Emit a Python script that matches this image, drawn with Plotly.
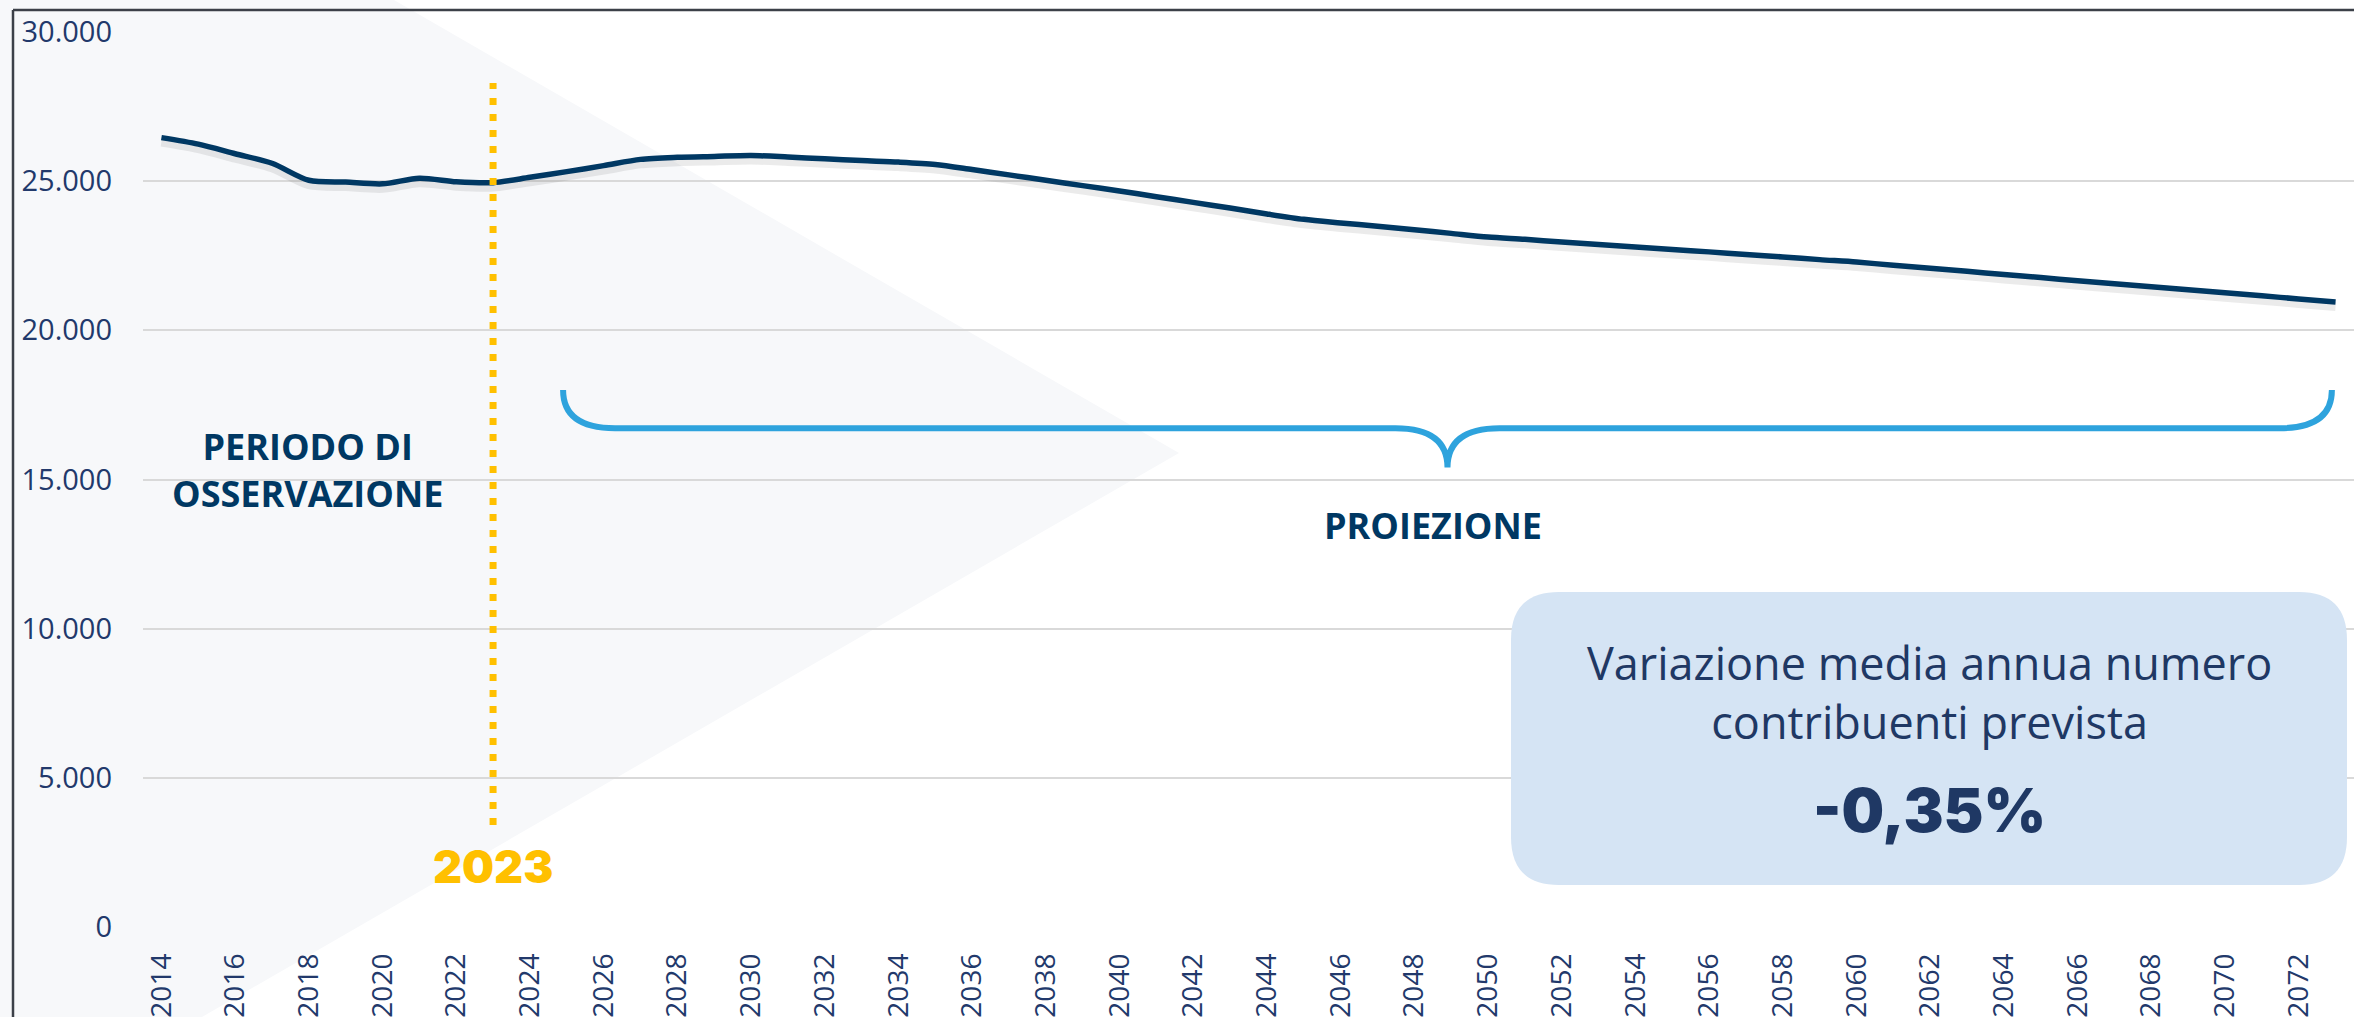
import plotly.graph_objects as go

# ---------------- data ----------------
years = list(range(2014, 2074))
contribuenti = [26460, 26240, 25920, 25600, 25030, 24970, 24910, 25100, 24980, 24950,
                25130, 25320, 25520, 25730, 25800, 25830, 25860, 25810, 25750, 25690,
                25640, 25560, 25390, 25210, 25030, 24850, 24670, 24480, 24290, 24100,
                23900, 23720, 23600, 23490, 23370, 23250, 23130, 23050, 22960, 22880,
                22790, 22710, 22630, 22540, 22460, 22370, 22290, 22180, 22080, 21980,
                21870, 21770, 21660, 21560, 21460, 21360, 21260, 21160, 21050, 20950]
x_tickvals = years[::2]
x_ticktext = [str(y) for y in x_tickvals]
y_tickvals = [0, 5000, 10000, 15000, 20000, 25000, 30000]
y_ticktext = ["0", "5.000", "10.000", "15.000", "20.000", "25.000", "30.000"]
anno_year = 2023
label_oss = "PERIODO DI<br>OSSERVAZIONE"
label_pro = "PROIEZIONE"
box_text = "Variazione media annua numero<br>contribuenti prevista"
box_value = "-0,35%"

# ---------------- geometry helpers ----------------
W, H = 2354, 1017
L, R, T, B = 143, 0, 32, 90
PW, PH = W - L - R, H - T - B


def px(x):
    return (x - L) / PW


def py(y):
    return (H - B - y) / PH


def ppath(cmds):
    out = []
    for c in cmds:
        if isinstance(c, str):
            out.append(c)
        else:
            out.append(f"{px(c[0]):.5f},{py(c[1]):.5f}")
    return " ".join(out)


NAVY = "#003863"
TICK = "#22396B"
YELLOW = "#FFC000"
BLUE = "#2EA3DD"

fig = go.Figure()

# soft shadow of the line
fig.add_trace(go.Scatter(
    x=years, y=[v - 150 for v in contribuenti], mode="lines",
    line=dict(color="rgba(60,60,60,0.10)", width=9, shape="spline", smoothing=0.8),
    hoverinfo="skip", showlegend=False))
fig.add_trace(go.Scatter(
    x=years, y=contribuenti, mode="lines",
    line=dict(color=NAVY, width=5.5, shape="spline", smoothing=0.8),
    showlegend=False))

shapes = []
# grey chevron (observation period)
shapes.append(dict(type="path", xref="paper", yref="paper", layer="below",
                   path=ppath(["M", (0, 0), "L", (394, 0), "L", (1179, 453), "L", (202, 1017),
                               "L", (0, 1017), "Z"]),
                   fillcolor="#F7F8FA", line=dict(width=0)))
# frame lines
shapes.append(dict(type="line", xref="paper", yref="paper", x0=px(13), x1=px(W + 5),
                   y0=py(10), y1=py(10), line=dict(color="#3C4048", width=2.5), layer="above"))
shapes.append(dict(type="line", xref="paper", yref="paper", x0=px(13), x1=px(13),
                   y0=py(10), y1=py(H + 5), line=dict(color="#3C4048", width=2.5), layer="above"))
# yellow dotted line at 2023
shapes.append(dict(type="line", xref="x", yref="paper", x0=anno_year, x1=anno_year,
                   y0=py(825), y1=py(83),
                   line=dict(color=YELLOW, width=7, dash="7px,9px"), layer="above"))
# brace (projection)
bx0, bx1 = 2024.9, 2072.9
bxm = (bx0 + bx1) / 2
bend, bh, btip, dx = 18000, 16720, 15400, 1.41
brace = (f"M {bx0},{bend} Q {bx0},{bh} {bx0 + dx},{bh} L {bxm - dx},{bh} "
         f"Q {bxm},{bh} {bxm},{btip} Q {bxm},{bh} {bxm + dx},{bh} "
         f"L {bx1 - dx},{bh} Q {bx1},{bh} {bx1},{bend}")
shapes.append(dict(type="path", xref="x", yref="y", path=brace,
                   line=dict(color=BLUE, width=6), layer="above"))
# rounded box
x0, x1, y0, y1, r = 1511, 2347, 592, 885, 48
shapes.append(dict(type="path", xref="paper", yref="paper", layer="above",
                   path=ppath(["M", (x0 + r, y0), "L", (x1 - r, y0), "Q", (x1, y0), (x1, y0 + r),
                               "L", (x1, y1 - r), "Q", (x1, y1), (x1 - r, y1),
                               "L", (x0 + r, y1), "Q", (x0, y1), (x0, y1 - r),
                               "L", (x0, y0 + r), "Q", (x0, y0), (x0 + r, y0), "Z"]),
                   fillcolor="#D5E4F4", line=dict(width=0)))

annotations = [
    dict(text=label_oss, xref="paper", yref="paper", x=px(307), y=py(469.5),
         showarrow=False, xanchor="center", yanchor="middle", align="center",
         font=dict(family="Open Sans", size=36, color=NAVY, weight=700)),
    dict(text=label_pro, xref="paper", yref="paper", x=px(1432.5), y=py(525.5),
         showarrow=False, xanchor="center", yanchor="middle",
         font=dict(family="Open Sans", size=36, color=NAVY, weight=700)),
    dict(text=str(anno_year), xref="x", yref="paper", x=anno_year, y=py(866),
         showarrow=False, xanchor="center", yanchor="middle",
         font=dict(family="Inter", size=45, color=YELLOW, weight=900)),
    dict(text=box_text, xref="paper", yref="paper", x=px((x0 + x1) / 2), y=py(691.5),
         showarrow=False, xanchor="center", yanchor="middle", align="center",
         font=dict(family="Open Sans", size=45, color="#1F3864", weight=400)),
    dict(text=box_value, xref="paper", yref="paper", x=px((x0 + x1) / 2), y=py(810),
         showarrow=False, xanchor="center", yanchor="middle",
         font=dict(family="Inter", size=60, color="#1F3864", weight=900)),
]

fig.update_layout(
    width=W, height=H,
    margin=dict(l=L, r=R, t=T, b=B, autoexpand=False),
    paper_bgcolor="white", plot_bgcolor="rgba(0,0,0,0)",
    shapes=shapes, annotations=annotations, showlegend=False,
    xaxis=dict(range=[2013.5, 2073.5], tickmode="array", tickvals=x_tickvals,
               ticktext=x_ticktext, tickangle=-90, showgrid=False, zeroline=False,
               showline=False, ticks="", ticklabelstandoff=20, automargin=False,
               tickfont=dict(family="Open Sans", size=28, color=TICK)),
    yaxis=dict(range=[0, 30000], tickmode="array", tickvals=y_tickvals,
               ticktext=y_ticktext, showgrid=True, gridcolor="#D9D9D9", gridwidth=2,
               zeroline=False, showline=False, ticks="", ticklabelstandoff=30,
               automargin=False,
               tickfont=dict(family="Open Sans", size=29, color=TICK)),
)

fig.write_html("out.html", include_plotlyjs=True, config={"displayModeBar": False},
               post_script="document.body.style.margin='0';document.body.style.overflow='hidden';")
